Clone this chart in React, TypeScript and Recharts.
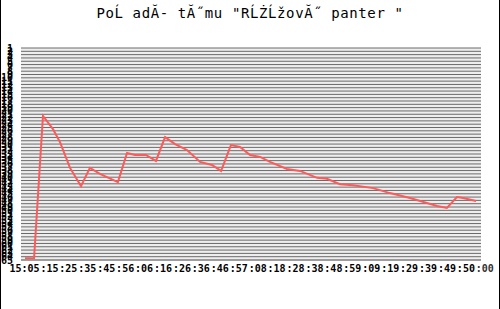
import React from "react";
import { LineChart, Line, XAxis, YAxis, CartesianGrid } from "recharts";

// minutes since 15:00 and team position (1 = best)
const minutes = [2.1, 6.9, 11.6, 16.9, 20.6, 25.9, 31.7, 36.4, 41.7, 51.2, 56, 60.2, 66, 71.3, 76.1, 81.4, 87.7, 94.6, 100.9, 105.7, 110.9, 115.7, 121, 126.3, 131.5, 140.5, 147.4, 156.4, 161.6, 168.5, 175.4, 186, 194.9, 205.5, 219.8, 225, 230.3, 233.5, 240.4];
const positions = [64.5, 64.5, 21.5, 25.5, 29.4, 37.2, 42.7, 37.2, 39, 41.5, 32.7, 33.3, 33.3, 35.1, 27.9, 30, 31.8, 35.4, 36.3, 38.1, 30.3, 30.9, 33.3, 33.9, 35.4, 37.5, 38.1, 40.2, 40.5, 42.1, 42.4, 43.3, 44.8, 46.3, 48.7, 49.3, 46, 46.3, 47.2];

const timeLabels = [
  "15:05", ":15", ":25", ":35", ":45", ":56", ":06", ":16", ":26", ":36", ":46", ":57", ":08",
  ":18", ":28", ":38", ":48", ":59", ":09", ":19", ":29", ":39", ":49", ":50", ":00",
];
const labelTicks = [0, 10, 20, 30, 40, 50, 60, 70, 80, 90, 100, 110, 120, 130, 140, 150, 160, 170, 180, 190, 200, 210, 220, 230, 240];
const minorTicks = [3.4, 8.2, 13, 17.8, 22.6, 27.4, 32.2, 37, 41.8, 46.6, 51.4, 56.2, 61, 65.8, 70.6, 75.4, 80.2, 85, 89.8, 94.6, 99.4, 104.2, 109, 113.8, 118.6, 123.4, 128.2, 133, 137.8, 142.6, 147.4, 152.2, 157, 161.8, 166.6, 171.4, 176.2, 181, 185.8, 190.6, 195.4, 200.2, 205, 209.8, 214.6, 219.4, 224.2, 229, 233.8, 238.6];
const rankTicks = [1, 2, 3, 4, 5, 6, 7, 8, 9, 10, 11, 12, 13, 14, 15, 16, 17, 18, 19, 20, 21, 22, 23, 24, 25, 26, 27, 28, 29, 30, 31, 32, 33, 34, 35, 36, 37, 38, 39, 40, 41, 42, 43, 44, 45, 46, 47, 48, 49, 50, 51, 52, 53, 54, 55, 56, 57, 58, 59, 60, 61, 62, 63, 64, 65];

const data = minutes.map((m, i) => ({ m, pos: positions[i] }));

const TITLE = 'PoĹ adĂ- tĂ˝mu "RĹŻĹžovĂ˝ panter "';
const mono = "'DejaVu Sans Mono', monospace";

const TimeTick = (props: any) => {
  const { x, y, index } = props;
  const first = index === 0;
  return (
    <text
      x={x + 9.5 + (first ? 9 : 0)}
      y={y}
      dy="0.71em"
      textAnchor={first ? "end" : "middle"}
      fontFamily={mono}
      fontSize={10}
      fontWeight="bold"
      fill={index === timeLabels.length - 1 ? "#333" : "#000"}
    >
      {timeLabels[index]}
    </text>
  );
};

export default function App() {
  return (
    <div style={{ position: "absolute", left: 0, top: 0, width: 500, height: 309, background: "#fff" }}>
      <div
        style={{
          position: "absolute",
          top: 6,
          left: 0,
          width: 500,
          textAlign: "center",
          fontFamily: mono,
          fontSize: 14,
          lineHeight: "14px",
          letterSpacing: 0.6,
          color: "#000",
          whiteSpace: "pre",
        }}
      >
        {TITLE}
      </div>
      <LineChart width={500} height={309} data={data} margin={{ top: 48, right: 19, bottom: 25, left: 0 }}>
        <CartesianGrid vertical={false} stroke="#6a6a6a" fill="#eeeeee" xAxisId={0} />
        <XAxis
          xAxisId={0}
          dataKey="m"
          type="number"
          domain={[0, 243]}
          ticks={minorTicks}
          interval={0}
          allowDataOverflow
          height={4}
          tickSize={3}
          tick={false}
          stroke="#888"
        />
        <XAxis
          xAxisId={1}
          dataKey="m"
          type="number"
          domain={[0, 243]}
          ticks={labelTicks}
          interval={0}
          allowDataOverflow
          height={20}
          axisLine={false}
          tickLine={false}
          tickSize={0}
          tickMargin={1}
          tick={<TimeTick />}
        />
        <YAxis
          dataKey="pos"
          type="number"
          reversed
          domain={[1, 65]}
          ticks={rankTicks}
          interval={0}
          width={21}
          axisLine={false}
          tickLine={false}
          tickSize={0}
          tickMargin={8}
          tick={{ fontFamily: mono, fontSize: 10, fontWeight: "bold", fill: "#000" }}
        />
        <Line
          xAxisId={0}
          dataKey="pos"
          type="linear"
          stroke="#ff5a5a"
          strokeWidth={2}
          dot={false}
          isAnimationActive={false}
        />
      </LineChart>
      <div
        style={{
          position: "absolute",
          left: 0,
          top: 0,
          width: 500,
          height: 309,
          boxSizing: "border-box",
          borderLeft: "1px solid #000",
          borderRight: "1px solid #000",
          pointerEvents: "none",
        }}
      />
    </div>
  );
}
